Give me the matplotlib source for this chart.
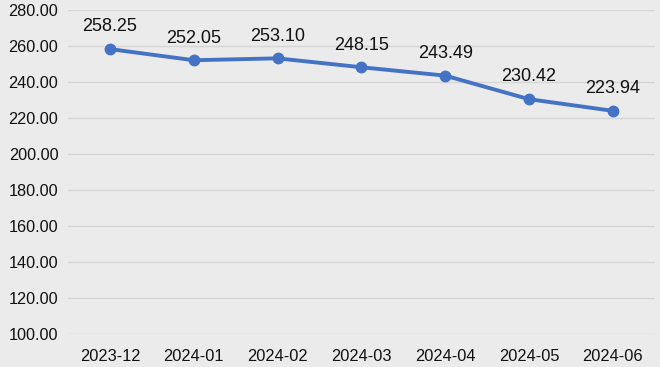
import matplotlib
matplotlib.use("Agg")
import matplotlib.pyplot as plt

categories = ["2023-12", "2024-01", "2024-02", "2024-03", "2024-04", "2024-05", "2024-06"]
values = [258.25, 252.05, 253.10, 248.15, 243.49, 230.42, 223.94]
yticks = [100, 120, 140, 160, 180, 200, 220, 240, 260, 280]

plt.rcParams['font.family'] = ['Liberation Sans', 'DejaVu Sans']
bg = "#ebebeb"
fig = plt.figure(figsize=(6.6, 3.67), dpi=100, facecolor=bg)
ax = fig.add_axes([0.103, 0.090, 0.889, 0.883])
ax.set_facecolor(bg)

x = list(range(len(categories)))
ax.plot(x, values, color="#4472C4", linewidth=2.8, marker="o", markersize=7.5, zorder=3)
for xi, v in zip(x, values):
    ax.annotate(f"{v:.2f}", (xi, v), xytext=(0, 16), textcoords="offset points",
                ha="center", va="center", fontsize=13, color="#111111")

ax.set_xlim(-0.5, len(categories) - 0.5)
ax.set_ylim(100, 280)
ax.set_yticks(yticks)
ax.set_yticklabels([f"{t:.2f}" for t in yticks], fontsize=11.7)
ax.set_xticks(x)
ax.set_xticklabels(categories, fontsize=11.8)
ax.grid(axis="y", color="#d6d6d6", linewidth=1)
ax.set_axisbelow(True)
for s in ax.spines.values():
    s.set_visible(False)
ax.tick_params(length=0, colors="#111111")
ax.tick_params(axis="y", pad=7)
ax.tick_params(axis="x", pad=11)

fig.savefig("out.png", dpi=100, facecolor=bg)
